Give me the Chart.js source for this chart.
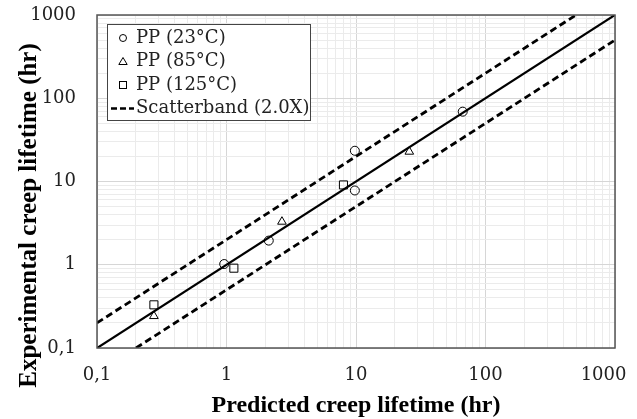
<!DOCTYPE html>
<html><head><meta charset="utf-8">
<script src="https://cdn.jsdelivr.net/npm/chart.js@4/dist/chart.umd.min.js"></script>
<style>html,body{margin:0;padding:0;background:#fff}#wrap{width:637px;height:419px}</style>
</head><body><div id="wrap"><canvas id="c" width="637" height="419"></canvas></div>
<script>
// ---- data ----
const pp23X = [0.96, 2.12, 9.8, 9.8, 66.7];
const pp23Y = [1.02, 1.95, 23.4, 7.8, 69];
const pp85X = [0.275, 2.68, 25.8];
const pp85Y = [0.242, 3.29, 22.8];
const pp125X = [0.275, 1.14, 8.0];
const pp125Y = [0.33, 0.91, 9.1];
const meanLineX = [0.1, 1000];
const meanLineY = [0.1, 1000];
const upperBandX = [0.1, 500];
const upperBandY = [0.2, 1000];
const lowerBandX = [0.2, 1000];
const lowerBandY = [0.1, 500];
const tickValues = [0.1, 1, 10, 100, 1000];
const tickLabels = ['0,1', '1', '10', '100', '1000'];
const seriesLabels = ['PP (23°C)', 'PP (85°C)', 'PP (125°C)', 'Scatterband (2.0X)'];
const xTitle = 'Predicted creep lifetime (hr)';
const yTitle = 'Experimental creep lifetime (hr)';

// grid positions (1..9 x 10^k) inside the axis range
const gridTicks = [];
for (let e = -1; e <= 2; e++) for (let k = 1; k <= 9; k++) gridTicks.push(Number((k * Math.pow(10, e)).toPrecision(3)));
gridTicks.push(1000);

const pts = (xs, ys) => xs.map((x, i) => ({x, y: ys[i]}));
const isMajor = v => Math.abs(Math.log10(v) - Math.round(Math.log10(v))) < 1e-9;
const labelFor = v => { const i = tickValues.findIndex(t => Math.abs(t - v) / t < 1e-9); return i >= 0 ? tickLabels[i] : ''; };

const tickFont = {family: 'DejaVu Serif', size: 18};
const gridColor = c => (c.tick && isMajor(c.tick.value)) ? '#d6d6d6' : '#ebebeb';

const frameAndLegend = {
  id: 'frameAndLegend',
  afterDatasetsDraw(chart) {
    const {ctx, chartArea: a} = chart;
    ctx.save();
    ctx.strokeStyle = '#555';
    ctx.lineWidth = 1.5;
    ctx.strokeRect(a.left, a.top, a.right - a.left, a.bottom - a.top);
    ctx.restore();
  },
  afterDraw(chart) {
    const ctx = chart.ctx;
    ctx.save();
    // y-axis title
    ctx.translate(29.5, 215.5);
    ctx.rotate(-Math.PI / 2);
    ctx.font = 'bold 25px "Liberation Serif"';
    ctx.fillStyle = '#000';
    ctx.textAlign = 'center';
    ctx.textBaseline = 'middle';
    ctx.fillText(yTitle, 0, 0);
    ctx.restore();

    // legend
    ctx.save();
    const bx = 107, by = 24, bw = 203, bh = 96;
    ctx.fillStyle = '#fff';
    ctx.fillRect(bx, by, bw, bh);
    ctx.strokeStyle = '#444';
    ctx.lineWidth = 1;
    ctx.strokeRect(bx + 0.5, by + 0.5, bw, bh);
    const rows = [38, 61.5, 85, 108.5];
    const mx = 123;
    ctx.strokeStyle = '#000';
    ctx.lineWidth = 1;
    ctx.beginPath(); ctx.arc(mx, rows[0], 3.5, 0, Math.PI * 2); ctx.stroke();
    ctx.beginPath(); ctx.moveTo(mx, rows[1] - 4); ctx.lineTo(mx + 4.2, rows[1] + 3); ctx.lineTo(mx - 4.2, rows[1] + 3); ctx.closePath(); ctx.stroke();
    ctx.strokeRect(mx - 3.5, rows[2] - 3.5, 7, 7);
    ctx.beginPath(); ctx.setLineDash([6, 3]); ctx.lineWidth = 2.5;
    ctx.moveTo(111, rows[3]); ctx.lineTo(134, rows[3]); ctx.stroke();
    ctx.setLineDash([]);
    ctx.font = '18px "DejaVu Serif"';
    ctx.fillStyle = '#222';
    ctx.textAlign = 'left';
    ctx.textBaseline = 'middle';
    seriesLabels.forEach((t, i) => ctx.fillText(t, 136, rows[i]));
    ctx.restore();
  }
};

new Chart(document.getElementById('c'), {
  type: 'scatter',
  data: {
    datasets: [
      {label: seriesLabels[0], data: pts(pp23X, pp23Y), pointStyle: 'circle', pointRadius: 4.5, borderColor: '#000', backgroundColor: 'rgba(0,0,0,0)', borderWidth: 1},
      {label: seriesLabels[1], data: pts(pp85X, pp85Y), pointStyle: 'triangle', pointRadius: 5, borderColor: '#000', backgroundColor: 'rgba(0,0,0,0)', borderWidth: 1},
      {label: seriesLabels[2], data: pts(pp125X, pp125Y), pointStyle: 'rect', pointRadius: 5.7, borderColor: '#000', backgroundColor: 'rgba(0,0,0,0)', borderWidth: 1},
      {label: 'mean', data: pts(meanLineX, meanLineY), showLine: true, pointRadius: 0, borderColor: '#000', borderWidth: 2.3},
      {label: seriesLabels[3], data: pts(upperBandX, upperBandY), showLine: true, pointRadius: 0, borderColor: '#000', borderWidth: 2.8, borderDash: [7, 4]},
      {label: 'lower', data: pts(lowerBandX, lowerBandY), showLine: true, pointRadius: 0, borderColor: '#000', borderWidth: 2.8, borderDash: [7, 4]}
    ]
  },
  options: {
    responsive: false,
    animation: false,
    events: [],
    layout: {padding: {top: 15, right: 22, left: 0, bottom: 0}},
    plugins: {legend: {display: false}, tooltip: {enabled: false}},
    scales: {
      x: {
        type: 'logarithmic', min: 0.1, max: 1000,
        afterBuildTicks: s => { s.ticks = gridTicks.map(v => ({value: v, major: isMajor(v)})); },
        afterFit: s => { s.height = 71; s.paddingLeft = 0; s.paddingRight = 0; },
        ticks: {
          autoSkip: false, maxRotation: 0, minRotation: 0, padding: 17, font: tickFont, color: '#222',
          callback: v => { const l = labelFor(v); return l === '1000' ? l + '\u00a0\u00a0\u00a0\u00a0' : l; }
        },
        grid: {color: gridColor, drawTicks: false, lineWidth: 1},
        border: {display: false},
        title: {display: true, text: xTitle, color: '#000', font: {family: 'Liberation Serif', size: 24, weight: 'bold', lineHeight: 1}, padding: {top: 0, bottom: 1}}
      },
      y: {
        type: 'logarithmic', min: 0.1, max: 1000,
        afterBuildTicks: s => { s.ticks = gridTicks.map(v => ({value: v, major: isMajor(v)})); },
        afterFit: s => { s.width = 97; s.paddingTop = 0; s.paddingBottom = 0; },
        ticks: {autoSkip: false, padding: 21, font: tickFont, color: '#222', callback: v => labelFor(v)},
        grid: {color: gridColor, drawTicks: false, lineWidth: 1},
        border: {display: false}
      }
    }
  },
  plugins: [frameAndLegend]
});
</script>
</body></html>
